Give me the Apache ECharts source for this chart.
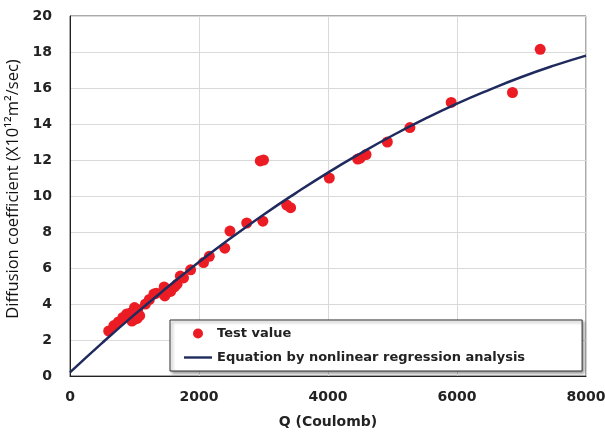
<!DOCTYPE html>
<html>
<head>
<meta charset="utf-8">
<script src="https://cdn.jsdelivr.net/npm/echarts@6/dist/echarts.min.js"></script>
<style>
  html, body { margin: 0; padding: 0; background: #fff; }
  #chart { width: 605px; height: 432px; }
</style>
</head>
<body>
<div id="chart"></div>
<script>
// 试验值 (Q, D)
const testQ = [600, 680, 750, 820, 880, 940, 960, 1000, 1040, 1080, 1000, 1050,
  1170, 1230, 1300, 1340, 1460, 1470, 1560, 1620, 1660, 1710, 1760, 1870,
  2070, 2160, 2400, 2480, 2740, 2990, 2950, 3000, 3360, 3420, 4020, 4460,
  4500, 4590, 4920, 5270, 5910, 6860, 7290];
const testD = [2.5, 2.8, 3.0, 3.25, 3.45, 3.5, 3.05, 3.15, 3.2, 3.35, 3.8, 3.7,
  4.0, 4.25, 4.55, 4.6, 4.95, 4.45, 4.7, 4.95, 5.1, 5.55, 5.45, 5.9,
  6.3, 6.65, 7.1, 8.05, 8.5, 8.6, 11.95, 12.0, 9.5, 9.35, 11.0, 12.05,
  12.1, 12.3, 13.0, 13.8, 15.2, 15.75, 18.15];

// 回归曲线
const curveQ = [0, 500, 1000, 1500, 2000, 2500, 3000, 3500, 4000, 4500,
  5000, 5500, 6000, 6500, 7000, 7500, 8000];
const curveD = [0.2, 1.84, 3.41, 4.9, 6.33, 7.68, 8.96, 10.16, 11.3, 12.36,
  13.36, 14.28, 15.13, 15.9, 16.61, 17.24, 17.8];

const chart = echarts.init(document.getElementById('chart'));

const labelFont = {
  fontFamily: 'DejaVu Sans',
  fontWeight: 'bold',
  fontSize: 14,
  color: '#222'
};

// 图例里的线段图标 (只画一条细线)
const lineIcon = 'path://M0,0 L0,0 M0,3.8 L28,3.8 L28,6.2 L0,6.2 Z M0,10 L0,10';

const option = {
  backgroundColor: '#fff',
  animation: false,
  grid: {
    left: 70,
    right: 19,
    top: 16,
    bottom: 56,
    outerBoundsMode: 'none',
    show: true,
    borderColor: '#555',
    borderWidth: 1
  },
  legend: {
    orient: 'vertical',
    left: 170,
    top: 320,
    padding: [7, 57, 7, 14],
    itemGap: 11,
    itemWidth: 28,
    itemHeight: 10,
    backgroundColor: '#fff',
    borderColor: '#333',
    borderWidth: 1,
    shadowBlur: 3,
    shadowOffsetX: 2,
    shadowOffsetY: 2,
    shadowColor: 'rgba(0,0,0,0.4)',
    textStyle: {
      fontFamily: 'DejaVu Sans',
      fontWeight: 'bold',
      fontSize: 13,
      color: '#222'
    },
    data: [
      { name: 'Test value', icon: 'circle', itemStyle: { opacity: 1 } },
      { name: 'Equation by nonlinear regression analysis', icon: lineIcon }
    ]
  },
  xAxis: {
    type: 'value',
    min: 0,
    max: 8000,
    interval: 2000,
    name: 'Q (Coulomb)',
    nameLocation: 'middle',
    nameGap: 39,
    nameTextStyle: labelFont,
    axisLine: { show: true, lineStyle: { color: '#222', width: 1 } },
    axisTick: { show: false },
    splitLine: { show: true, lineStyle: { color: '#d9d9d9', width: 1 } },
    axisLabel: Object.assign({ margin: 14, formatter: v => String(v) }, labelFont)
  },
  yAxis: {
    type: 'value',
    min: 0,
    max: 20,
    interval: 2,
    name: 'Diffusion coefficient (X10¹²m²/sec)',
    nameLocation: 'middle',
    nameRotate: 90,
    nameGap: 43,
    nameTextStyle: {
      fontFamily: 'Open Sans',
      fontSize: 16.5,
      color: '#111',
      padding: [0, 0, 0, 14]
    },
    axisLine: { show: true, lineStyle: { color: '#222', width: 1 } },
    axisTick: { show: false },
    splitLine: { show: true, lineStyle: { color: '#d9d9d9', width: 1 } },
    axisLabel: Object.assign({ margin: 18 }, labelFont)
  },
  series: [
    {
      name: 'Test value',
      type: 'scatter',
      symbol: 'circle',
      symbolSize: 11,
      itemStyle: { color: '#ec1c24', opacity: 1 },
      data: testQ.map((q, i) => [q, testD[i]]),
      z: 3
    },
    {
      name: 'Equation by nonlinear regression analysis',
      type: 'line',
      smooth: true,
      symbol: 'none',
      lineStyle: { color: '#1f2a5e', width: 2.5 },
      itemStyle: { color: '#1f2a5e' },
      data: curveQ.map((q, i) => [q, curveD[i]]),
      z: 4
    }
  ]
};

chart.setOption(option);
</script>
</body>
</html>
